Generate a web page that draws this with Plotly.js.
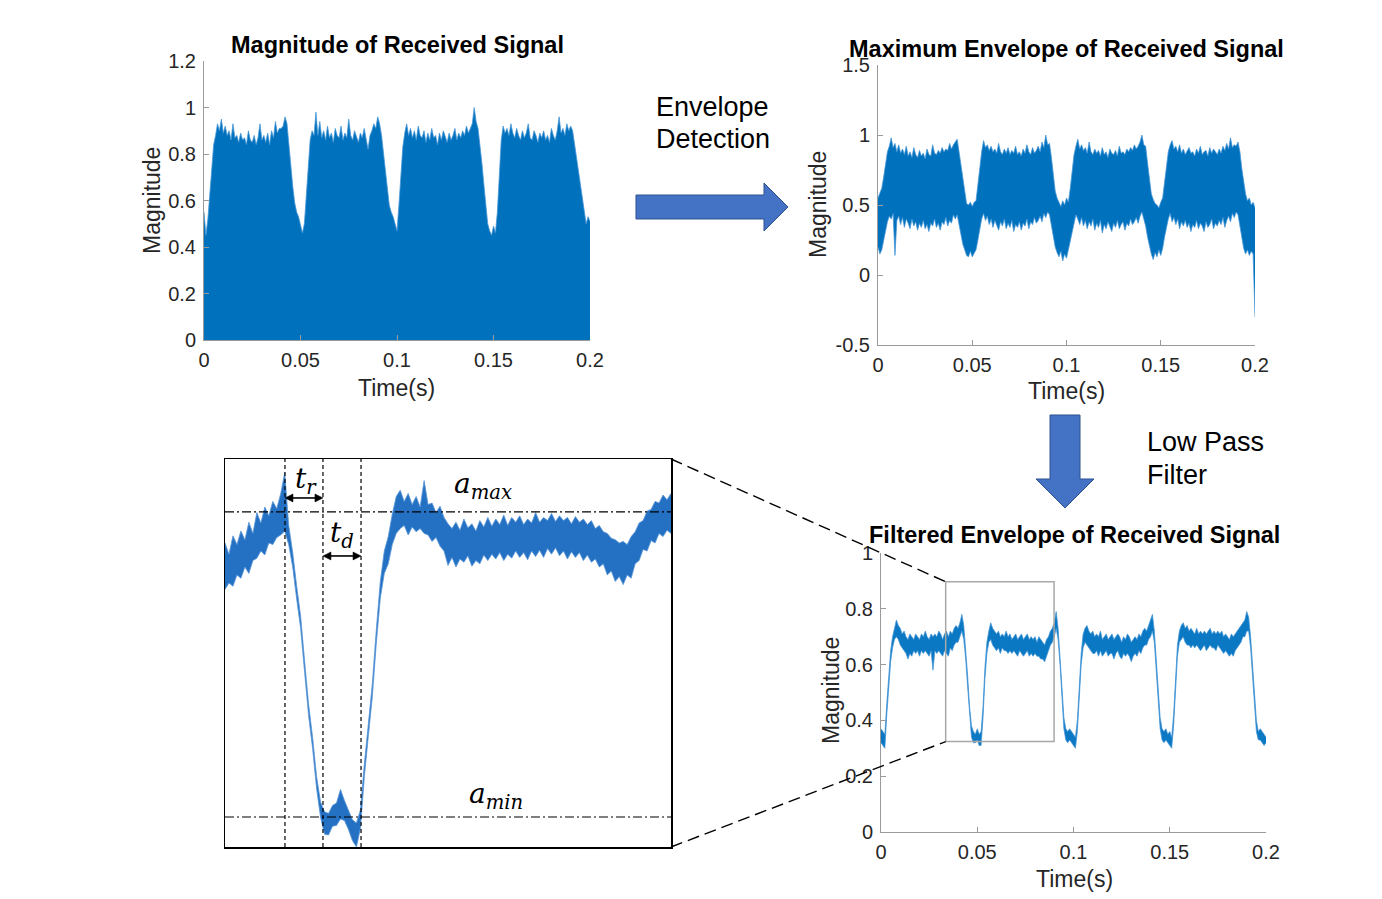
<!DOCTYPE html>
<html><head><meta charset="utf-8">
<script src="https://cdn.plot.ly/plotly-3.0.1.min.js"></script>
<style>html,body{margin:0;padding:0;background:#fff;}#chart{width:1382px;height:899px;}</style>
</head><body><div id="chart"></div>
<script>
// ---------- DATA ----------
const T_START = 0, T_STEP = 0.001;           // sampling grid of the three full-length signals (s)
const magUpper = [
0.55,0.45,0.52,0.62,0.74,0.84,0.88,0.93,0.90,0.95,
0.89,0.92,0.88,0.90,0.86,0.93,0.87,0.88,0.85,0.89,
0.86,0.87,0.84,0.90,0.86,0.85,0.88,0.84,0.87,0.93,
0.86,0.88,0.85,0.89,0.84,0.90,0.87,0.94,0.89,0.91,
0.91,0.92,0.96,0.93,0.84,0.74,0.66,0.59,0.55,0.53,
0.50,0.46,0.50,0.63,0.76,0.86,0.90,0.88,0.98,0.88,
0.94,0.87,0.90,0.86,0.92,0.87,0.89,0.85,0.91,0.88,
0.87,0.92,0.86,0.89,0.87,0.95,0.88,0.86,0.90,0.87,
0.85,0.89,0.87,0.91,0.86,0.82,0.88,0.90,0.93,0.91,
0.96,0.93,0.88,0.80,0.72,0.66,0.58,0.55,0.53,0.50,
0.47,0.58,0.70,0.83,0.89,0.93,0.88,0.91,0.87,0.90,
0.86,0.92,0.88,0.87,0.90,0.85,0.89,0.86,0.91,0.87,
0.88,0.84,0.89,0.86,0.90,0.87,0.85,0.89,0.86,0.88,
0.91,0.86,0.89,0.87,0.90,0.88,0.92,0.89,0.91,0.93,
1.00,0.94,0.91,0.84,0.76,0.67,0.58,0.50,0.47,0.45,
0.49,0.46,0.55,0.73,0.86,0.92,0.89,0.91,0.88,0.93,
0.89,0.87,0.91,0.88,0.86,0.90,0.87,0.89,0.93,0.87,
0.86,0.90,0.88,0.85,0.89,0.87,0.90,0.86,0.88,0.85,
0.91,0.88,0.86,0.90,0.96,0.89,0.91,0.88,0.93,0.90,
0.92,0.90,0.84,0.78,0.74,0.66,0.60,0.56,0.50,0.53,
0.51];
const envUpper = [
0.55,0.58,0.62,0.70,0.79,0.88,0.92,0.98,0.91,0.94,
0.88,0.93,0.87,0.90,0.86,0.92,0.85,0.88,0.84,0.91,
0.86,0.84,0.89,0.85,0.87,0.83,0.90,0.86,0.85,0.93,
0.87,0.86,0.89,0.87,0.91,0.88,0.90,0.89,0.94,0.90,
0.93,0.95,0.97,0.88,0.78,0.68,0.58,0.51,0.50,0.52,
0.49,0.52,0.53,0.66,0.78,0.88,0.96,0.91,0.93,0.89,
0.92,0.88,0.90,0.87,0.94,0.88,0.86,0.90,0.87,0.91,
0.86,0.89,0.87,0.92,0.86,0.88,0.85,0.90,0.87,0.93,
0.88,0.86,0.91,0.87,0.89,0.92,0.88,0.95,0.91,1.00,
0.93,0.94,0.84,0.72,0.60,0.55,0.52,0.49,0.53,0.50,
0.55,0.52,0.62,0.75,0.86,0.92,0.97,0.90,0.93,0.89,
0.91,0.87,0.95,0.88,0.86,0.90,0.87,0.89,0.85,0.91,
0.86,0.88,0.84,0.90,0.87,0.86,0.89,0.85,0.92,0.87,
0.88,0.86,0.90,0.88,0.91,0.89,0.93,0.90,0.92,0.95,
1.00,0.93,0.92,0.80,0.68,0.58,0.54,0.51,0.50,0.48,
0.52,0.55,0.66,0.79,0.88,0.93,0.96,0.90,0.92,0.88,
0.93,0.87,0.90,0.86,0.89,0.91,0.87,0.88,0.85,0.90,
0.87,0.92,0.86,0.88,0.89,0.85,0.91,0.87,0.90,0.88,
0.86,0.90,0.87,0.92,0.89,0.94,0.90,0.98,0.91,0.93,
0.92,0.95,0.88,0.76,0.66,0.58,0.53,0.55,0.50,0.52,
0.48];
const envLower = [
0.20,0.15,0.18,0.25,0.33,0.38,0.42,0.40,0.44,0.14,
0.39,0.42,0.36,0.41,0.34,0.40,0.37,0.33,0.40,0.35,
0.38,0.32,0.37,0.34,0.39,0.33,0.36,0.31,0.37,0.35,
0.40,0.34,0.37,0.32,0.38,0.36,0.41,0.35,0.39,0.37,
0.43,0.40,0.43,0.35,0.27,0.22,0.18,0.14,0.13,0.17,
0.13,0.16,0.18,0.25,0.32,0.40,0.44,0.39,0.42,0.36,
0.40,0.34,0.39,0.36,0.32,0.38,0.35,0.40,0.33,0.37,
0.34,0.39,0.31,0.36,0.34,0.38,0.32,0.37,0.35,0.40,
0.33,0.38,0.36,0.41,0.37,0.39,0.42,0.38,0.44,0.41,
0.45,0.43,0.36,0.27,0.20,0.16,0.13,0.17,0.10,0.15,
0.12,0.18,0.24,0.32,0.38,0.43,0.40,0.36,0.41,0.35,
0.39,0.33,0.38,0.35,0.40,0.32,0.37,0.34,0.39,0.30,
0.36,0.33,0.38,0.35,0.31,0.37,0.34,0.39,0.33,0.36,
0.38,0.32,0.37,0.35,0.40,0.36,0.38,0.41,0.37,0.42,
0.45,0.40,0.35,0.27,0.20,0.15,0.11,0.16,0.13,0.18,
0.14,0.19,0.27,0.35,0.40,0.44,0.38,0.41,0.36,0.40,
0.33,0.38,0.35,0.39,0.34,0.37,0.31,0.36,0.34,0.39,
0.33,0.37,0.35,0.31,0.38,0.34,0.36,0.40,0.33,0.37,
0.35,0.39,0.36,0.41,0.34,0.39,0.42,0.38,0.44,0.41,
0.45,0.43,0.34,0.26,0.19,0.15,0.18,0.14,0.17,0.15,
-0.30];
const filtUpper = [
0.37,0.36,0.35,0.46,0.57,0.65,0.70,0.73,0.76,0.74,
0.73,0.71,0.72,0.70,0.69,0.71,0.70,0.69,0.71,0.70,
0.69,0.71,0.70,0.72,0.70,0.69,0.71,0.70,0.71,0.70,
0.72,0.71,0.69,0.71,0.72,0.70,0.72,0.71,0.73,0.74,
0.73,0.75,0.78,0.74,0.66,0.56,0.45,0.38,0.36,0.35,
0.37,0.35,0.36,0.45,0.59,0.68,0.72,0.75,0.73,0.72,
0.71,0.72,0.70,0.71,0.70,0.72,0.70,0.71,0.69,0.70,
0.71,0.69,0.70,0.71,0.69,0.70,0.71,0.69,0.70,0.69,
0.70,0.68,0.70,0.69,0.68,0.67,0.69,0.70,0.72,0.73,
0.75,0.79,0.73,0.64,0.52,0.41,0.37,0.36,0.37,0.36,
0.35,0.34,0.40,0.52,0.64,0.71,0.73,0.74,0.72,0.71,
0.72,0.70,0.71,0.70,0.72,0.69,0.70,0.71,0.69,0.70,
0.71,0.69,0.70,0.71,0.70,0.68,0.70,0.69,0.71,0.70,
0.68,0.69,0.70,0.69,0.71,0.70,0.72,0.73,0.72,0.74,
0.76,0.78,0.72,0.62,0.50,0.41,0.37,0.36,0.37,0.35,
0.36,0.34,0.42,0.55,0.67,0.72,0.74,0.75,0.73,0.74,
0.72,0.73,0.72,0.71,0.73,0.71,0.72,0.71,0.72,0.71,
0.72,0.73,0.71,0.72,0.71,0.72,0.71,0.72,0.70,0.71,
0.70,0.69,0.71,0.70,0.71,0.72,0.73,0.74,0.75,0.76,
0.79,0.77,0.70,0.60,0.48,0.40,0.36,0.37,0.36,0.35,
0.34];
const filtLower = [
0.32,0.31,0.30,0.42,0.53,0.61,0.66,0.69,0.70,0.69,
0.67,0.66,0.65,0.64,0.62,0.64,0.63,0.65,0.64,0.65,
0.63,0.65,0.64,0.65,0.64,0.63,0.65,0.58,0.65,0.64,
0.65,0.64,0.63,0.65,0.64,0.63,0.66,0.65,0.67,0.68,
0.68,0.70,0.72,0.69,0.62,0.52,0.41,0.34,0.32,0.32,
0.33,0.31,0.31,0.41,0.55,0.64,0.68,0.69,0.67,0.66,
0.65,0.66,0.64,0.66,0.65,0.65,0.64,0.65,0.64,0.65,
0.64,0.63,0.65,0.64,0.63,0.64,0.65,0.63,0.64,0.63,
0.64,0.63,0.63,0.62,0.62,0.61,0.63,0.65,0.67,0.68,
0.70,0.73,0.69,0.60,0.48,0.37,0.33,0.32,0.33,0.32,
0.31,0.30,0.36,0.48,0.60,0.66,0.68,0.67,0.66,0.65,
0.64,0.64,0.65,0.63,0.65,0.63,0.64,0.65,0.63,0.64,
0.64,0.62,0.64,0.65,0.63,0.62,0.64,0.63,0.64,0.63,
0.61,0.63,0.64,0.63,0.65,0.64,0.66,0.67,0.67,0.69,
0.70,0.72,0.68,0.58,0.46,0.37,0.33,0.32,0.33,0.32,
0.31,0.30,0.38,0.51,0.63,0.68,0.69,0.70,0.68,0.67,
0.67,0.66,0.67,0.66,0.67,0.66,0.65,0.66,0.67,0.65,
0.66,0.67,0.66,0.66,0.65,0.67,0.66,0.65,0.64,0.65,
0.64,0.63,0.64,0.63,0.65,0.66,0.67,0.68,0.70,0.70,
0.72,0.72,0.66,0.56,0.44,0.36,0.33,0.33,0.32,0.31,
0.32];
const INSET_START = 0.034, INSET_STEP = 0.0005;   // zoomed window of the filtered envelope
const insetUpper = [
0.690,0.676,0.699,0.688,0.705,0.694,0.716,0.702,0.728,0.715,
0.735,0.724,0.742,0.733,0.752,0.778,0.712,0.678,0.636,0.598,
0.542,0.488,0.447,0.398,0.366,0.354,0.352,0.362,0.365,0.382,
0.368,0.356,0.344,0.340,0.356,0.414,0.464,0.514,0.582,0.642,
0.680,0.698,0.726,0.748,0.756,0.742,0.752,0.738,0.748,0.735,
0.768,0.738,0.740,0.728,0.736,0.722,0.714,0.708,0.716,0.706,
0.720,0.709,0.714,0.705,0.718,0.710,0.722,0.711,0.720,0.713,
0.725,0.712,0.722,0.716,0.724,0.713,0.720,0.715,0.728,0.716,
0.722,0.718,0.727,0.717,0.724,0.718,0.722,0.714,0.723,0.716,
0.720,0.713,0.718,0.708,0.712,0.704,0.702,0.696,0.694,0.690,
0.692,0.688,0.698,0.704,0.715,0.718,0.730,0.732,0.742,0.740,
0.750,0.744,0.752];
const insetLower = [
0.632,0.640,0.636,0.650,0.646,0.660,0.652,0.668,0.671,0.680,
0.675,0.690,0.688,0.697,0.700,0.705,0.688,0.660,0.620,0.583,
0.528,0.474,0.433,0.383,0.347,0.326,0.325,0.336,0.337,0.345,
0.343,0.332,0.318,0.310,0.333,0.398,0.449,0.498,0.565,0.621,
0.652,0.664,0.688,0.702,0.708,0.712,0.700,0.710,0.704,0.708,
0.702,0.700,0.692,0.697,0.686,0.680,0.662,0.672,0.660,0.670,
0.666,0.674,0.661,0.668,0.664,0.675,0.668,0.676,0.670,0.678,
0.668,0.676,0.671,0.680,0.672,0.678,0.669,0.680,0.673,0.681,
0.672,0.683,0.676,0.684,0.674,0.680,0.670,0.679,0.672,0.678,
0.668,0.675,0.666,0.670,0.660,0.664,0.650,0.655,0.642,0.648,
0.638,0.650,0.646,0.664,0.668,0.682,0.680,0.693,0.690,0.702,
0.698,0.706,0.702];
const xTickVals = [0, 0.05, 0.1, 0.15, 0.2];
const xTickText = ['0', '0.05', '0.1', '0.15', '0.2'];
const magTickVals = [0, 0.2, 0.4, 0.6, 0.8, 1, 1.2];
const magTickText = ['0', '0.2', '0.4', '0.6', '0.8', '1', '1.2'];
const envTickVals = [-0.5, 0, 0.5, 1, 1.5];
const envTickText = ['-0.5', '0', '0.5', '1', '1.5'];
const filtTickVals = [0, 0.2, 0.4, 0.6, 0.8, 1];
const filtTickText = ['0', '0.2', '0.4', '0.6', '0.8', '1'];
const zoomWindow = {x0: 0.0336, x1: 0.0899, y0: 0.324, y1: 0.897};
const insetMarks = {tPeak: 0.04153, tLow: 0.04630, tEnd: 0.05108, aMax: 0.7288, aMin: 0.3475,
                    trY: 0.7463, tdY: 0.6738};

// ---------- LAYOUT HELPERS ----------
const W = 1382, H = 899;
const px = x => x / W, py = y => 1 - y / H;
const domX = (a, b) => [a / W, b / W];
const domY = (top, bot) => [1 - bot / H, 1 - top / H];
const grid = (arr, s, d) => arr.map((_, i) => +(s + i * d).toFixed(5));
const tMain = grid(magUpper, T_START, T_STEP);
const tInset = grid(insetUpper, INSET_START, INSET_STEP);

const BLUE = '#0072BD', EDGE = 'rgba(70,150,215,0.75)';
const FONT = 'Liberation Sans, Arial, sans-serif';
const baseAxis = {showline: true, linecolor: '#9a9a9a', linewidth: 1, ticks: 'inside', ticklen: 5,
  tickcolor: '#9a9a9a', showgrid: false, zeroline: false, fixedrange: true,
  tickfont: {family: FONT, size: 20, color: '#262626'}, tickmode: 'array'};

const D1x = domX(204, 590), D1y = domY(61, 340);
const D2x = domX(878, 1255), D2y = domY(65, 345);
const D3x = domX(881, 1266), D3y = domY(553, 832);
const D4x = domX(225, 671), D4y = domY(459, 847);
const R3x = [0, 0.2], R3y = [0, 1];
const R4x = [0.034, 0.090], R4y = [0.31, 0.795];

const traces = [
  {x: tMain, y: magUpper, type: 'scatter', mode: 'lines', fill: 'tozeroy', fillcolor: BLUE,
   line: {color: EDGE, width: 1}, xaxis: 'x', yaxis: 'y', hoverinfo: 'skip'},
  {x: tMain, y: envLower, type: 'scatter', mode: 'lines', line: {color: EDGE, width: 1},
   xaxis: 'x2', yaxis: 'y2', hoverinfo: 'skip'},
  {x: tMain, y: envUpper, type: 'scatter', mode: 'lines', fill: 'tonexty', fillcolor: BLUE,
   line: {color: EDGE, width: 1}, xaxis: 'x2', yaxis: 'y2', hoverinfo: 'skip'},
  {x: tMain, y: filtLower, type: 'scatter', mode: 'lines', line: {color: EDGE, width: 1},
   xaxis: 'x3', yaxis: 'y3', hoverinfo: 'skip'},
  {x: tMain, y: filtUpper, type: 'scatter', mode: 'lines', fill: 'tonexty', fillcolor: '#0a78c2',
   line: {color: EDGE, width: 1}, xaxis: 'x3', yaxis: 'y3', hoverinfo: 'skip'},
  {x: tInset, y: insetLower, type: 'scatter', mode: 'lines', line: {color: 'rgba(90,150,215,0.8)', width: 1},
   xaxis: 'x4', yaxis: 'y4', hoverinfo: 'skip'},
  {x: tInset, y: insetUpper, type: 'scatter', mode: 'lines', fill: 'tonexty', fillcolor: '#2471c3',
   line: {color: 'rgba(90,150,215,0.8)', width: 1}, xaxis: 'x4', yaxis: 'y4', hoverinfo: 'skip'}
];

// paper position of a data point of subplot 3 / the inset
const lin = (v, r, d) => d[0] + (v - r[0]) / (r[1] - r[0]) * (d[1] - d[0]);
const p3x = v => lin(v, R3x, D3x), p3y = v => lin(v, R3y, D3y);
const p4x = v => lin(v, R4x, D4x), p4y = v => lin(v, R4y, D4y);
const pathPx = pts => 'M' + pts.map(p => px(p[0]).toFixed(5) + ',' + py(p[1]).toFixed(5)).join('L') + 'Z';
const rightArrow = [[636,195],[764,195],[764,183],[788,207],[764,231],[764,219],[636,219]];
const downArrow = [[1050,415],[1080,415],[1080,479],[1094,479],[1065,508],[1036,479],[1050,479]];

// double-headed horizontal arrow between two inset times at one level
const HEAD_L = 8 / W, HEAD_H = 4 / H;
function doubleArrow(ta, tb, yv) {
  const xa = p4x(ta), xb = p4x(tb), y = p4y(yv);
  const head = (tip, dir) => 'M' + tip + ',' + y + 'L' + (tip + dir * HEAD_L) + ',' + (y + HEAD_H) +
                             'L' + (tip + dir * HEAD_L) + ',' + (y - HEAD_H) + 'Z';
  return [
    {type: 'line', xref: 'paper', yref: 'paper', x0: xa + HEAD_L * 0.5, x1: xb - HEAD_L * 0.5, y0: y, y1: y, line: {color: '#000', width: 1.6}},
    {type: 'path', xref: 'paper', yref: 'paper', path: head(xa, 1), fillcolor: '#000', line: {color: '#000', width: 0.5}},
    {type: 'path', xref: 'paper', yref: 'paper', path: head(xb, -1), fillcolor: '#000', line: {color: '#000', width: 0.5}}
  ];
}

const vdash = {color: '#000', width: 1.2, dash: '4px,3px'};
const ddot = {color: '#000', width: 1.2, dash: '9px,3px,2px,3px'};
const shapes = [
  {type: 'rect', xref: 'x3', yref: 'y3', x0: zoomWindow.x0, x1: zoomWindow.x1, y0: zoomWindow.y0, y1: zoomWindow.y1,
   line: {color: '#a8a8a8', width: 1.5}},
  {type: 'line', xref: 'paper', yref: 'paper', x0: D4x[1], y0: D4y[1], x1: p3x(zoomWindow.x0), y1: p3y(zoomWindow.y1),
   line: {color: '#000', width: 1.4, dash: '12px,6px'}},
  {type: 'line', xref: 'paper', yref: 'paper', x0: D4x[1], y0: D4y[0], x1: p3x(zoomWindow.x0), y1: p3y(zoomWindow.y0),
   line: {color: '#000', width: 1.4, dash: '12px,6px'}},
  {type: 'path', xref: 'paper', yref: 'paper', path: pathPx(rightArrow), fillcolor: '#4472C4', line: {color: '#2F528F', width: 1}},
  {type: 'path', xref: 'paper', yref: 'paper', path: pathPx(downArrow), fillcolor: '#4472C4', line: {color: '#2F528F', width: 1}},
  {type: 'line', xref: 'x4', yref: 'y4', x0: insetMarks.tPeak, x1: insetMarks.tPeak, y0: R4y[0], y1: R4y[1], line: vdash},
  {type: 'line', xref: 'x4', yref: 'y4', x0: insetMarks.tLow, x1: insetMarks.tLow, y0: R4y[0], y1: R4y[1], line: vdash},
  {type: 'line', xref: 'x4', yref: 'y4', x0: insetMarks.tEnd, x1: insetMarks.tEnd, y0: R4y[0], y1: R4y[1], line: vdash},
  {type: 'line', xref: 'x4', yref: 'y4', x0: R4x[0], x1: R4x[1], y0: insetMarks.aMax, y1: insetMarks.aMax, line: ddot},
  {type: 'line', xref: 'x4', yref: 'y4', x0: R4x[0], x1: R4x[1], y0: insetMarks.aMin, y1: insetMarks.aMin, line: ddot}
].concat(doubleArrow(insetMarks.tPeak, insetMarks.tLow, insetMarks.trY),
         doubleArrow(insetMarks.tLow, insetMarks.tEnd, insetMarks.tdY));

const txt = (text, x, y, size, opts) => Object.assign({text, xref: 'paper', yref: 'paper', x: px(x), y: py(y),
  showarrow: false, xanchor: 'center', yanchor: 'middle', font: {family: FONT, size, color: '#000'}}, opts || {});
const MATH = 'DejaVu Serif, serif';
const axFont = {family: FONT, size: 23, color: '#262626'};
const mFont = {family: MATH, size: 28, color: '#000'};
const annotations = [
  txt('<b>Magnitude of Received Signal</b>', 397.5, 45, 23.5),
  txt('<b>Maximum Envelope of Received Signal</b>', 1066.5, 49, 23.5),
  txt('<b>Filtered Envelope of Received Signal</b>', 1074, 535, 23.5),
  txt('Time(s)', 397, 388, 23, {font: axFont}),
  txt('Time(s)', 1066, 391, 23, {font: axFont}),
  txt('Time(s)', 1074, 879, 23, {font: axFont}),
  txt('Magnitude', 152, 201, 23, {textangle: -90, font: axFont}),
  txt('Magnitude', 818, 205, 23, {textangle: -90, font: axFont}),
  txt('Magnitude', 831, 691, 23, {textangle: -90, font: axFont}),
  txt('Envelope', 654, 107, 27, {xanchor: 'left'}),
  txt('Detection', 654, 139, 27, {xanchor: 'left'}),
  txt('Low Pass', 1145, 442, 27, {xanchor: 'left'}),
  txt('Filter', 1145, 475, 27, {xanchor: 'left'}),
  txt('<i>t</i><sub><i>r</i></sub>', 306, 480, 28, {font: mFont}),
  txt('<i>t</i><sub><i>d</i></sub>', 342, 534, 28, {font: mFont}),
  txt('<i>a</i><sub><i>max</i></sub>', 483, 486, 28, {font: mFont}),
  txt('<i>a</i><sub><i>min</i></sub>', 496, 795, 28, {font: mFont})
];

const layout = {
  width: W, height: H, margin: {l: 0, r: 0, t: 0, b: 0}, paper_bgcolor: '#fff', plot_bgcolor: 'rgba(0,0,0,0)',
  showlegend: false,
  xaxis: Object.assign({}, baseAxis, {domain: D1x, range: [0, 0.2], anchor: 'y', tickvals: xTickVals, ticktext: xTickText, ticklabelstandoff: 2}),
  yaxis: Object.assign({}, baseAxis, {domain: D1y, range: [0, 1.2], anchor: 'x', tickvals: magTickVals, ticktext: magTickText, ticklabelstandoff: 3}),
  xaxis2: Object.assign({}, baseAxis, {domain: D2x, range: [0, 0.2], anchor: 'y2', tickvals: xTickVals, ticktext: xTickText, ticklabelstandoff: 2}),
  yaxis2: Object.assign({}, baseAxis, {domain: D2y, range: [-0.5, 1.5], anchor: 'x2', tickvals: envTickVals, ticktext: envTickText, ticklabelstandoff: 3}),
  xaxis3: Object.assign({}, baseAxis, {domain: D3x, range: R3x, anchor: 'y3', tickvals: xTickVals, ticktext: xTickText, ticklabelstandoff: 2}),
  yaxis3: Object.assign({}, baseAxis, {domain: D3y, range: R3y, anchor: 'x3', tickvals: filtTickVals, ticktext: filtTickText, ticklabelstandoff: 3}),
  xaxis4: {domain: D4x, range: R4x, anchor: 'y4', showline: true, mirror: true, linecolor: '#000', linewidth: 1.5,
           ticks: '', showticklabels: false, showgrid: false, zeroline: false, fixedrange: true},
  yaxis4: {domain: D4y, range: R4y, anchor: 'x4', showline: true, mirror: true, linecolor: '#000', linewidth: 1.5,
           ticks: '', showticklabels: false, showgrid: false, zeroline: false, fixedrange: true},
  shapes, annotations
};

Plotly.newPlot('chart', traces, layout, {staticPlot: true, displayModeBar: false});
</script></body></html>
